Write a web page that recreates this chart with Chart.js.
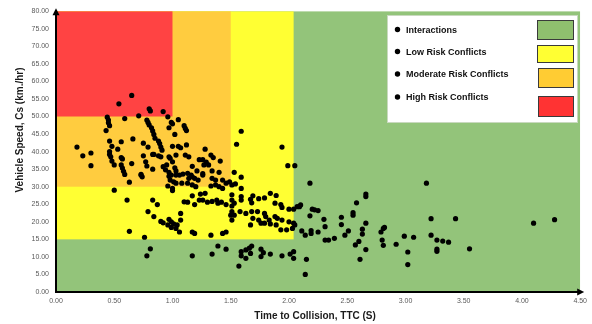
<!DOCTYPE html>
<html><head><meta charset="utf-8">
<script src="https://cdn.jsdelivr.net/npm/chart.js@4.4.1/dist/chart.umd.min.js"></script>
<style>html,body{margin:0;padding:0;background:#fff;}#wrap{width:592px;height:324px;}</style>
</head><body><div id="wrap"><canvas id="c" width="592" height="324"></canvas></div>
<script>
const ttcValues = [
0.65,0.54,0.80,0.81,0.92,0.71,0.96,0.59,
0.44,0.45,0.45,0.46,0.43,
0.78,0.79,0.80,0.82,0.83,0.84,
0.99,1.00,0.97,0.66,0.18,0.23,0.30,0.30,
0.46,0.56,0.48,0.53,
0.46,0.46,0.47,0.48,0.50,
0.56,0.57,0.56,0.57,0.58,0.65,
0.75,0.79,
0.85,0.88,0.89,0.90,0.91,
0.75,0.83,0.84,0.77,0.78,0.88,0.90,
1.00,0.97,0.98,1.00,0.95,0.94,0.97,
0.83,0.73,0.59,0.73,0.74,0.63,
0.97,0.98,1.01,0.96,1.00,
0.50,0.61,0.83,0.87,0.79,0.84,0.90,0.92,
0.97,0.99,0.96,0.99,1.01,0.63,0.76,0.81,0.78,
1.05,1.10,1.11,1.12,1.02,1.59,1.55,1.94,1.99,2.05,1.53,
1.05,1.07,1.12,1.28,1.03,1.11,1.14,1.33,1.35,1.41,
1.23,1.26,1.29,1.27,1.31,1.17,1.02,1.03,
1.21,1.26,1.34,1.40,
0.99,1.03,1.09,1.13,1.16,1.17,1.14,1.19,1.22,1.26,
1.34,1.37,1.43,1.49,1.59,1.03,1.13,1.17,1.20,
1.33,1.37,1.40,1.43,1.46,1.51,1.54,1.59,
0.92,1.06,1.08,1.00,1.10,
1.17,1.24,1.28,1.23,1.26,1.13,1.19,1.30,1.34,1.38,1.39,1.42,1.46,
1.51,1.51,1.53,1.59,1.59,1.69,1.67,1.68,1.74,1.79,1.84,1.89,1.88,1.93,1.94,2.00,2.04,2.07,
1.07,1.07,1.06,1.03,1.04,1.17,1.19,1.33,1.43,1.46,
1.51,1.51,1.53,1.51,1.50,1.58,1.63,1.68,1.69,1.73,1.74,
1.79,1.80,1.83,1.84,1.79,1.89,1.88,1.90,1.94,2.00,2.04,
1.98,1.93,2.03,2.05,1.67,1.76,
1.17,1.34,1.39,1.46,1.59,1.63,1.66,1.67,1.63,1.59,1.68,1.76,1.78,1.84,1.76,1.94,2.01,2.04,2.04,1.57,
2.18,3.18,2.66,2.66,2.58,2.10,2.09,2.20,2.22,2.25,2.55,2.55,2.18,2.30,2.45,3.22,2.66,2.45,2.31,2.82,2.81,
2.63,2.63,2.51,2.79,2.11,2.19,2.19,2.25,2.14,2.48,2.39,2.31,2.34,2.60,2.57,2.66,2.80,2.81,2.92,2.99,3.07,
3.02,3.02,3.22,3.27,3.27,3.27,2.15,2.61,2.14,3.43,3.32,3.37,3.55,4.10,4.28
];
const speedValues = [
56.0,53.6,52.2,51.6,51.4,50.2,49.9,49.4,
49.8,49.0,48.2,47.4,46.0,
49.0,48.3,47.6,46.8,45.9,44.9,
48.3,47.9,46.8,43.6,41.3,38.8,39.6,36.0,
43.0,42.8,41.5,40.7,
40.0,39.2,38.5,37.3,36.2,
38.3,37.9,36.2,35.3,34.4,36.6,
42.4,41.3,
43.8,43.0,42.3,41.3,40.4,
38.8,39.2,39.2,37.1,35.9,38.8,38.5,
41.5,38.5,38.1,37.1,36.2,34.8,34.1,
35.0,33.5,33.5,33.3,32.8,31.3,
33.0,31.9,31.4,30.2,28.9,
29.0,26.2,26.2,24.9,22.9,21.5,20.1,19.7,
20.7,20.0,19.1,18.4,19.4,17.3,15.6,12.3,10.3,
49.1,47.4,46.6,46.0,44.9,45.8,42.1,41.3,36.0,36.0,34.1,
41.5,41.1,41.9,40.7,39.0,39.0,38.5,39.0,38.3,37.3,
37.7,37.7,37.0,36.2,36.2,35.8,35.4,34.5,
34.5,33.7,34.5,34.1,
33.3,33.3,33.6,33.8,33.3,32.8,32.4,32.4,31.9,33.3,
32.4,31.9,31.9,31.4,32.7,31.0,31.0,30.5,30.0,
30.2,30.5,30.0,29.5,31.0,30.5,30.8,29.5,
35.7,33.3,31.0,29.5,25.7,
27.4,27.9,28.1,26.2,26.2,25.6,24.9,25.6,25.8,26.2,25.3,25.6,24.9,
27.7,26.2,25.3,27.2,26.2,27.4,26.4,25.4,26.6,26.8,28.1,27.5,25.3,24.9,24.1,23.6,23.6,24.3,
22.4,20.5,17.1,18.1,19.1,17.1,16.7,16.2,16.7,17.1,
24.5,22.9,21.9,20.5,21.9,22.9,22.4,22.9,21.0,22.9,20.5,
22.4,21.5,20.5,19.4,19.6,19.1,21.5,21.0,20.5,20.0,19.6,
17.7,17.7,18.1,19.1,19.1,19.6,
10.3,10.8,13.1,12.2,11.5,12.0,12.5,11.0,9.6,10.3,13.1,12.2,11.2,10.8,10.1,10.3,10.8,11.5,9.6,7.4,
31.0,31.0,27.9,27.2,25.4,24.8,24.3,23.6,23.4,23.2,22.6,21.9,21.7,20.7,21.3,20.9,19.6,19.2,18.6,18.4,18.1,
17.9,16.5,17.4,17.1,17.4,17.5,16.7,17.1,16.2,16.2,15.3,14.8,14.8,14.4,13.4,12.1,14.8,13.3,13.6,15.9,15.6,
11.4,7.8,16.2,14.8,12.2,11.6,9.3,9.3,5.0,20.9,14.5,14.2,12.3,19.6,20.6
];
const xTickValues = [0,0.5,1,1.5,2,2.5,3,3.5,4,4.5];
const yTickValues = [0,5,10,15,20,25,30,35,40,45,50,55,60,65,70,75,80];
const legendLabels = ['Interactions','Low Risk Conflicts','Moderate Risk Conflicts','High Risk Conflicts'];
const zoneColors = ['#93C47A','#FFFF33','#FFCC3F','#FF4343'];
const swatchColors = ['#8FBF6E','#FFFF33','#FFCC33','#FF3333'];
const zoneMaxTTC = [4.5, 2.04, 1.5, 1.0];
const zoneMinSpeed = [0, 15, 30, 50];
const xTitle = 'Time to Collision, TTC (S)';
const yTitle = 'Vehicle Speed, Cs (km./hr)';

const points = ttcValues.map((x,i)=>({x:x, y:speedValues[i]}));
const FONT = "'Liberation Sans', Arial, sans-serif";

const zonePlugin = {
  id:'zones',
  beforeDatasetsDraw(chart){
    const {ctx, chartArea:a, scales:{x, y}} = chart;
    ctx.save();
    ctx.beginPath(); ctx.rect(a.left, a.top, a.right-a.left, a.bottom-a.top); ctx.clip();
    for (let i=0;i<zoneColors.length;i++){
      const x0 = x.getPixelForValue(0), x1 = x.getPixelForValue(zoneMaxTTC[i]);
      const y0 = y.getPixelForValue(80), y1 = y.getPixelForValue(zoneMinSpeed[i]);
      ctx.fillStyle = zoneColors[i];
      ctx.fillRect(x0, y0, x1-x0, y1-y0);
    }
    ctx.restore();
  }
};

const decorPlugin = {
  id:'decor',
  afterDatasetsDraw(chart){
    const {ctx, chartArea:a} = chart;
    ctx.save();
    // axes with arrows
    ctx.strokeStyle = '#000'; ctx.fillStyle = '#000'; ctx.lineWidth = 2;
    ctx.beginPath(); ctx.moveTo(a.left, a.bottom+1); ctx.lineTo(a.left, a.top-1); ctx.stroke();
    ctx.beginPath(); ctx.moveTo(a.left-1, a.bottom); ctx.lineTo(a.right+1, a.bottom); ctx.stroke();
    ctx.beginPath(); ctx.moveTo(a.left, a.top-3); ctx.lineTo(a.left-3.5, a.top+4); ctx.lineTo(a.left+3.5, a.top+4); ctx.closePath(); ctx.fill();
    ctx.beginPath(); ctx.moveTo(a.right+4, a.bottom); ctx.lineTo(a.right-3, a.bottom-3.5); ctx.lineTo(a.right-3, a.bottom+3.5); ctx.closePath(); ctx.fill();
    // titles
    ctx.fillStyle = '#1a1a1a';
    ctx.font = 'bold 10px ' + FONT;
    ctx.textAlign = 'center'; ctx.textBaseline = 'middle';
    ctx.fillText(xTitle, (a.left+a.right)/2 - 3, 316);
    ctx.save();
    ctx.translate(20, 130); ctx.rotate(-Math.PI/2);
    ctx.fillText(yTitle, 0, 0);
    ctx.restore();
    // legend
    ctx.fillStyle = '#fff';
    ctx.fillRect(387, 15, 191, 108);
    ctx.strokeStyle = '#c9d9bf'; ctx.lineWidth = 1;
    ctx.strokeRect(387.5, 15.5, 190, 107);
    const rowsY = [30.5, 52.5, 75, 98];
    const sw = [[537,20,37,20],[537,45,37,18],[538,68,36,20],[538,96,36,21]];
    ctx.font = 'bold 9px ' + FONT;
    ctx.textAlign = 'left'; ctx.textBaseline = 'middle';
    for (let i=0;i<legendLabels.length;i++){
      ctx.fillStyle = '#000';
      ctx.beginPath(); ctx.arc(397.5, rowsY[i]-1, 2.7, 0, Math.PI*2); ctx.fill();
      ctx.fillStyle = '#111';
      ctx.fillText(legendLabels[i], 406, rowsY[i]);
      ctx.fillStyle = swatchColors[i];
      ctx.fillRect(sw[i][0], sw[i][1], sw[i][2], sw[i][3]);
      ctx.strokeStyle = '#3a3a3a';
      ctx.strokeRect(sw[i][0]+0.5, sw[i][1]+0.5, sw[i][2]-1, sw[i][3]-1);
    }
    ctx.restore();
  }
};

new Chart(document.getElementById('c'), {
  type:'scatter',
  data:{datasets:[{label:'Interactions', data:points, backgroundColor:'#000', borderWidth:0, pointRadius:2.6, pointHoverRadius:2.6}]},
  options:{
    responsive:false, animation:false, devicePixelRatio:1,
    layout:{padding:{top:10, right:10, left:0, bottom:0}},
    plugins:{legend:{display:false}, tooltip:{enabled:false}},
    scales:{
      x:{type:'linear', min:0, max:4.5,
        afterBuildTicks:s=>{s.ticks = xTickValues.map(v=>({value:v}));},
        afterFit:s=>{s.height = 32;},
        ticks:{autoSkip:false, maxRotation:0, padding:5, color:'#595959', font:{family:FONT, size:7}, callback:v=>Number(v).toFixed(2)},
        grid:{display:false, drawTicks:false}, border:{display:false}},
      y:{type:'linear', min:0, max:80,
        afterBuildTicks:s=>{s.ticks = yTickValues.map(v=>({value:v}));},
        afterFit:s=>{s.width = 56;},
        ticks:{autoSkip:false, padding:7, color:'#595959', font:{family:FONT, size:7}, callback:v=>Number(v).toFixed(2)},
        grid:{display:false, drawTicks:false}, border:{display:false}}
    }
  },
  plugins:[zonePlugin, decorPlugin]
});
</script></body></html>
